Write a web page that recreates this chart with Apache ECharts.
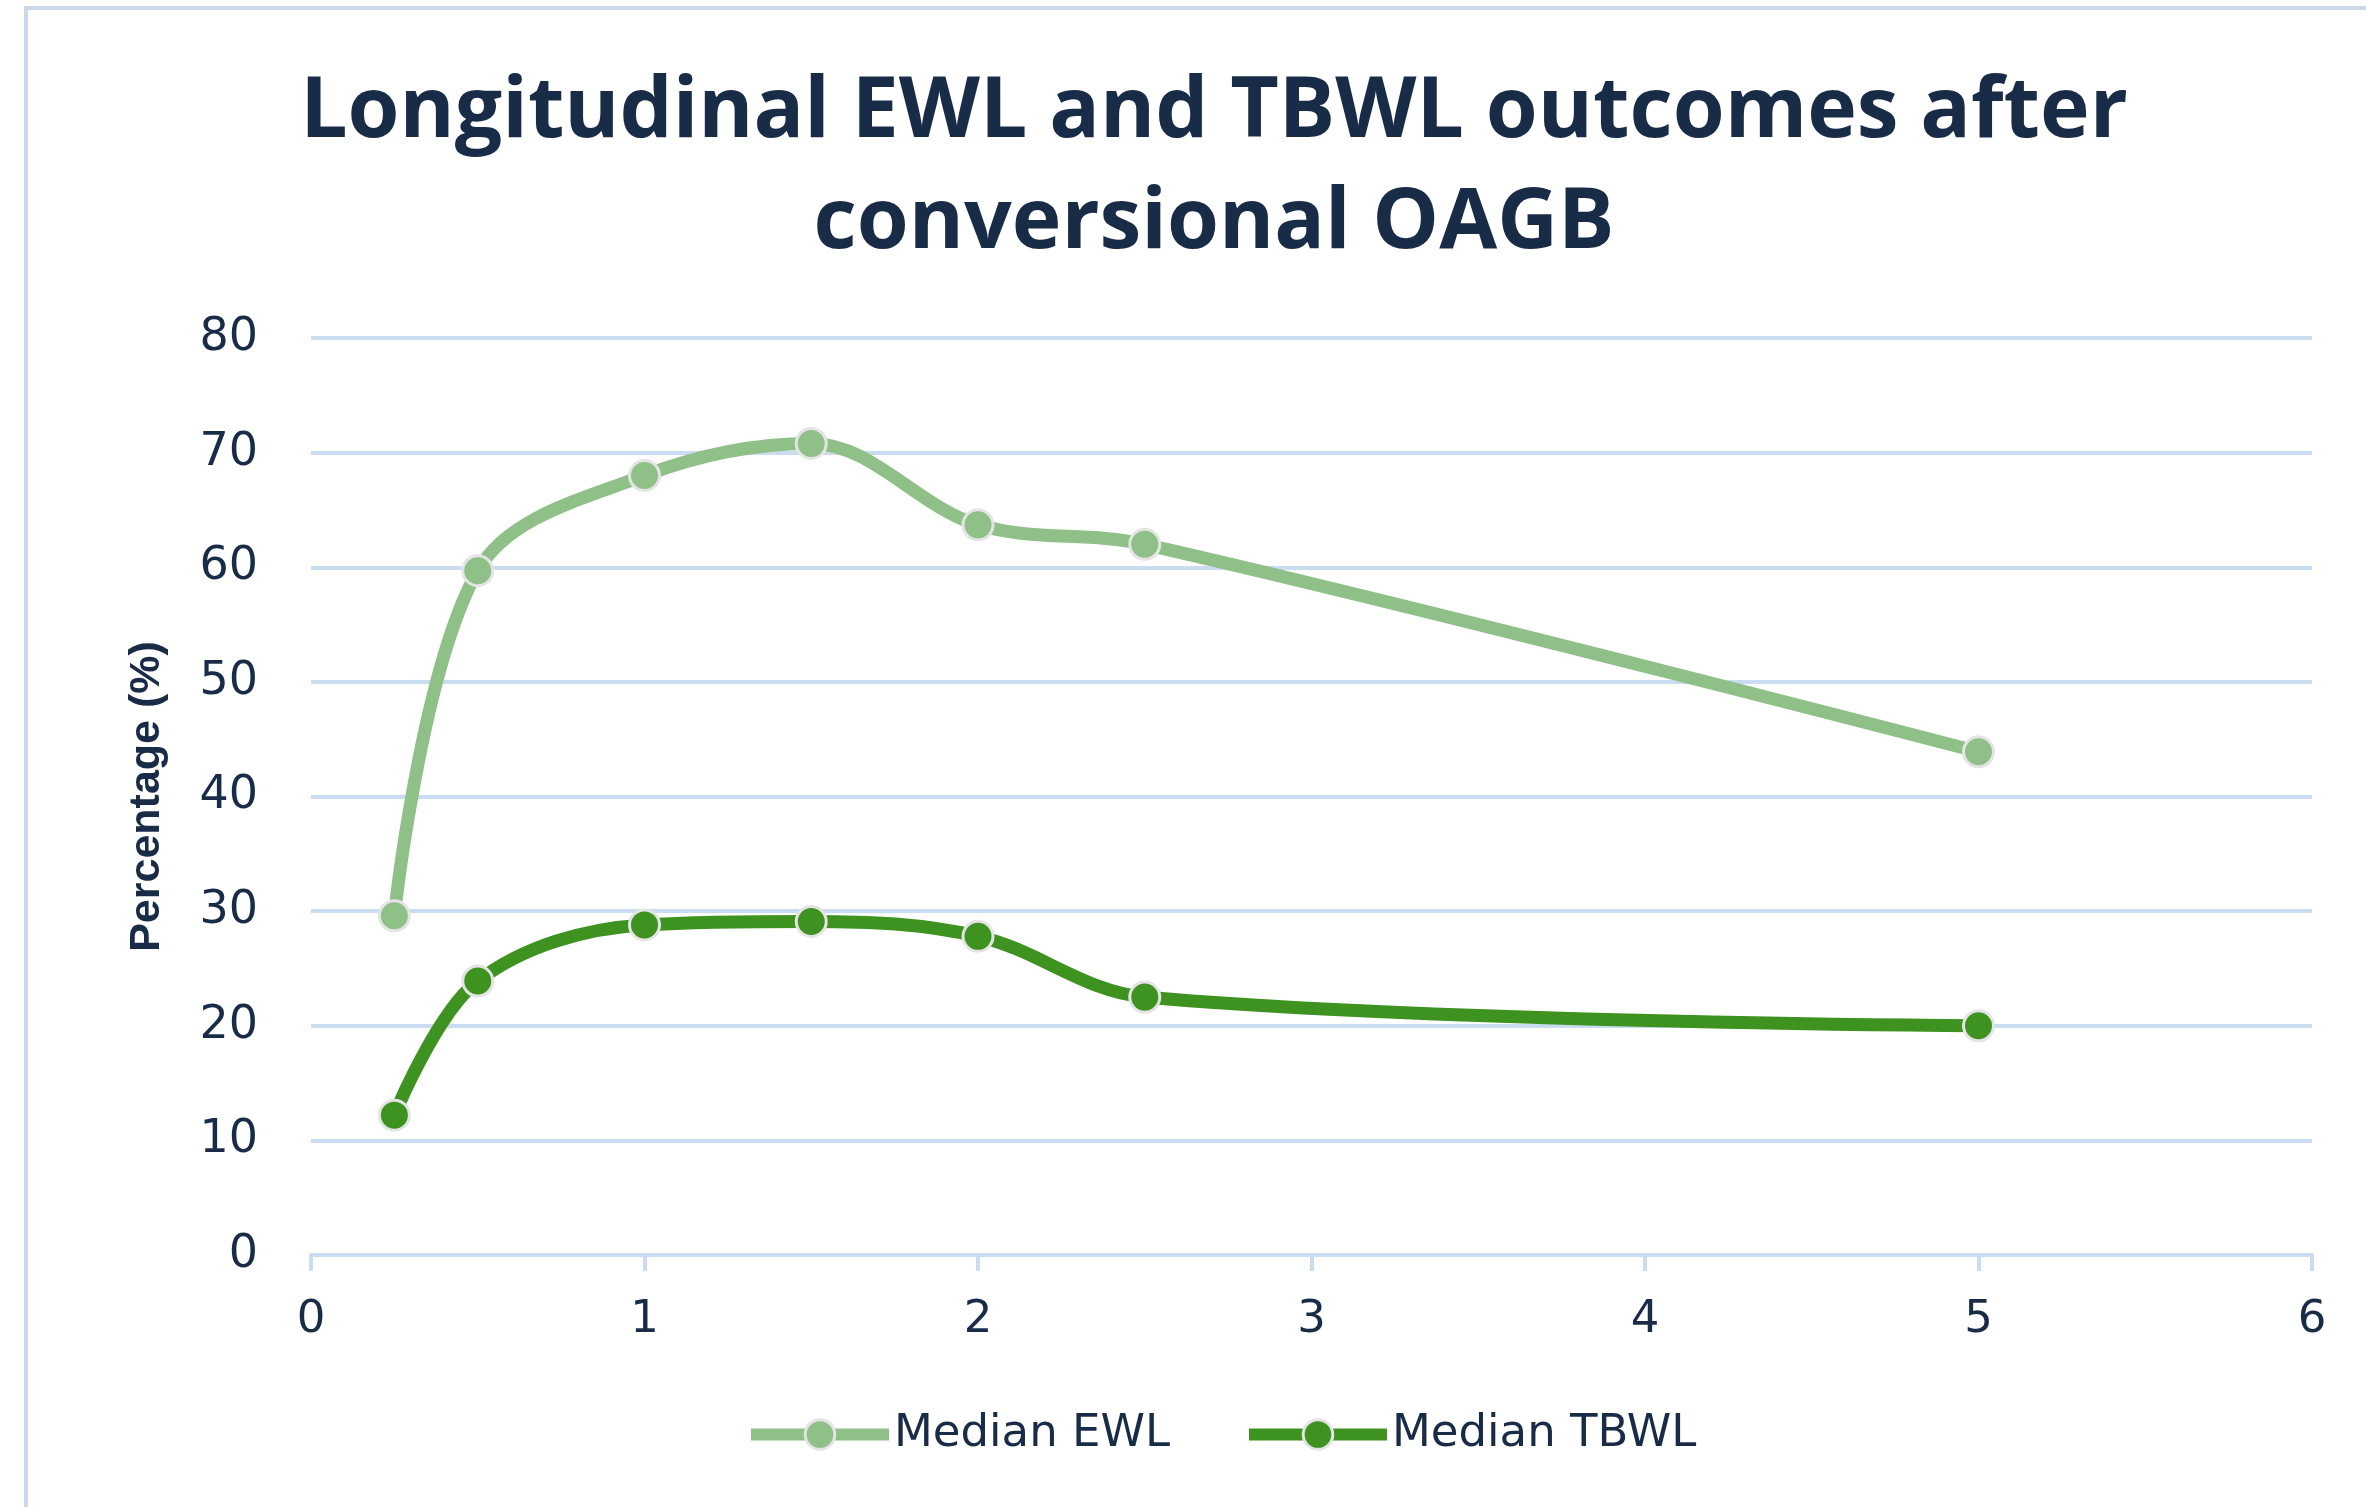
<!DOCTYPE html>
<html>
<head>
<meta charset="utf-8">
<script src="https://cdn.jsdelivr.net/npm/echarts@6/dist/echarts.min.js"></script>
<style>
  html, body { margin: 0; padding: 0; background: #ffffff; }
  #chart { width: 2366px; height: 1507px; }
</style>
</head>
<body>
<div id="chart"></div>
<script>
// ---- Data ----
const titleText = "Longitudinal EWL and TBWL outcomes after\nconversional OAGB";
const yAxisName = "Percentage (%)";
const years = [0.25, 0.5, 1, 1.5, 2, 2.5, 5];
const seriesNames = ["Median EWL", "Median TBWL"];
const medianEWL = [29.6, 59.7, 68.0, 70.8, 63.7, 62.0, 43.9];
const medianTBWL = [12.2, 23.9, 28.8, 29.1, 27.8, 22.5, 20.0];
const xTicks = [0, 1, 2, 3, 4, 5, 6];
const yTicks = [0, 10, 20, 30, 40, 50, 60, 70, 80];

const textColor = "#182b47";
const gridColor = "#cadcf1";
const colors = ["#8fc087", "#3e921f"];

const pairs = (xs, ys) => xs.map((x, i) => [x, ys[i]]);

const chart = echarts.init(document.getElementById("chart"), null, { renderer: "canvas" });

const mkSeries = (name, values, color) => ({
  name: name,
  type: "line",
  data: pairs(years, values),
  smooth: 0.35,
  symbol: "circle",
  symbolSize: 30,
  showSymbol: true,
  lineStyle: { color: color, width: 13 },
  itemStyle: { color: color, borderColor: "#e4e4e4", borderWidth: 3 },
  emphasis: { disabled: true },
  z: 3
});

chart.setOption({
  animation: false,
  backgroundColor: "#ffffff",
  graphic: [{
    type: "rect",
    shape: { x: 26, y: 8, width: 2400, height: 1600 },
    style: { fill: "none", stroke: "#cdd8ea", lineWidth: 4 },
    silent: true,
    z: -10
  }],
  title: {
    text: titleText,
    left: 1214,
    top: 58,
    padding: 0,
    textAlign: "center",
    textStyle: {
      fontFamily: "Open Sans",
      fontWeight: "bold",
      fontSize: 84,
      lineHeight: 111,
      color: textColor
    }
  },
  legend: {
    data: seriesNames,
    left: 745,
    top: 1412,
    padding: 0,
    itemWidth: 138,
    itemHeight: 37,
    itemGap: 73,
    lineStyle: { width: 12 },
    itemStyle: { borderColor: "#e4e4e4", borderWidth: 3 },
    textStyle: { fontFamily: "DejaVu Sans", fontSize: 45, color: textColor, padding: [0, 0, 0, 0] }
  },
  grid: {
    left: 311,
    right: 54,
    top: 338,
    bottom: 252,
    containLabel: false
  },
  xAxis: {
    type: "value",
    min: xTicks[0],
    max: xTicks[xTicks.length - 1],
    interval: 1,
    axisLine: { show: true, lineStyle: { color: gridColor, width: 4 } },
    axisTick: { show: true, length: 16, lineStyle: { color: gridColor, width: 4 } },
    axisLabel: { margin: 43, fontFamily: "DejaVu Sans", fontSize: 45, color: textColor },
    splitLine: { show: false }
  },
  yAxis: {
    type: "value",
    min: yTicks[0],
    max: yTicks[yTicks.length - 1],
    interval: 10,
    name: yAxisName,
    nameLocation: "middle",
    nameGap: 142,
    nameRotate: 90,
    nameTextStyle: { fontFamily: "Liberation Sans", fontWeight: "bold", fontSize: 43, color: textColor },
    axisLine: { show: false },
    axisTick: { show: false },
    axisLabel: { margin: 53, fontFamily: "DejaVu Sans", fontSize: 46, color: textColor },
    splitLine: { show: true, lineStyle: { color: gridColor, width: 4 } }
  },
  series: [
    mkSeries(seriesNames[0], medianEWL, colors[0]),
    mkSeries(seriesNames[1], medianTBWL, colors[1])
  ]
});
</script>
</body>
</html>
